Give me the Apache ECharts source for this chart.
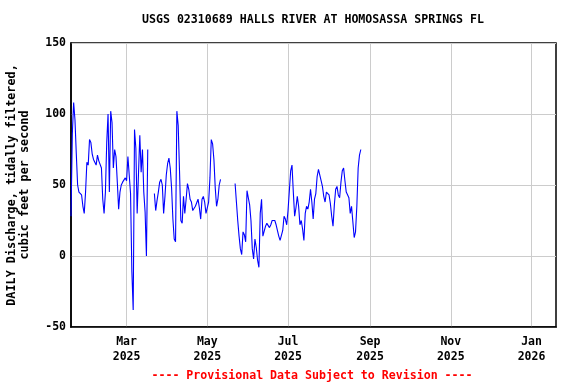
<!DOCTYPE html>
<html><head><meta charset="utf-8">
<script src="https://cdn.jsdelivr.net/npm/echarts@6/dist/echarts.min.js"></script>
<style>html,body{margin:0;padding:0;background:#fff}#c{width:576px;height:384px}</style>
</head><body><div id="c"></div>
<script>
const chartTitle = 'USGS 02310689 HALLS RIVER AT HOMOSASSA SPRINGS FL';
const yAxisName = 'DAILY Discharge, tidally filtered,\ncubic feet per second';
const footerText = '---- Provisional Data Subject to Revision ----';
const startDate = [2025, 0, 18];          // first daily value (Jan 18, 2025)
const axisMinDate = [2025, 0, 18];
const axisMaxDate = [2026, 0, 19, 12];
const dailyDischarge = [
  28, 86, 108, 96, 72, 50, 45, 46, 43, 35,
  30, 45, 66, 64, 82, 80, 72, 68, 66, 64,
  71, 67, 68, 62, 40, 30, 45, 80, 100, 45,
  102, 94, 62, 75, 70, 52, 33, 45, 50, 52,
  51, 55, 53, 70, 69, 44, -11, -38, 89, 76,
  30, 58, 85, 59, 75, 45, 31, 0, 75, null,
  null, null, null, 44, 32, 39, 45, 52, 54, 50,
  30, 42, 57, 65, 69, 62, 48, 26, 12, 10,
  102, 92, 60, 25, 23, 42, 30, 40, 51, 47,
  40, 38, 32, 33, 35, 34, 40, 34, 26, 40,
  42, 38, 30, 29, 38, 55, 82, 79, 68, 48,
  35, 40, 50, 54, null, null, null, null, null, null,
  null, null, null, null, 51, 38, 25, 14, 5, 1,
  17, 15, 10, 46, 41, 36, 25, 5, -2, 12,
  6, -3, -8, 30, 40, 14, 15, 21, 23, 22,
  20, 22, 25, 26, 25, 22, 21, 14, 11, 12,
  18, 28, 26, 22, 32, 46, 60, 64, 45, 28,
  34, 42, 35, 22, 25, 19, 11, 30, 35, 33,
  38, 47, 38, 26, 40, 44, 56, 61, 61, 53,
  49, 42, 38, 45, 45, 43, 37, 28, 21, 36,
  47, 49, 43, 41, 52, 60, 62, 53, 45, 45,
  41, 30, 35, 24, 13, 17, 35, 62, 71, 75
];
const xTickDates = [[2025,2,1],[2025,4,1],[2025,6,1],[2025,8,1],[2025,10,1],[2026,0,1]];
const xTickLabels = ['Mar\n2025','May\n2025','Jul\n2025','Sep\n2025','Nov\n2025','Jan\n2026'];
const yMin = -50, yMax = 150, yStep = 50;

const ts = a => Date.UTC(a[0], a[1], a[2], a[3] || 0);
const DAY = 86400000;
const t0 = ts(startDate);
const seriesData = dailyDischarge.map((v, i) => [t0 + i * DAY, v]);
const tickTs = xTickDates.map(ts);

const FONT = 'DejaVu Sans Mono';
const chart = echarts.init(document.getElementById('c'), null, {renderer: 'canvas'});
chart.setOption({
  animation: false,
  backgroundColor: '#ffffff',
  grid: {left: 71, right: 20, top: 43, bottom: 57, containLabel: false, outerBoundsMode: 'none',
         show: true, borderColor: '#000', borderWidth: 1.5, backgroundColor: 'transparent'},
  xAxis: {
    type: 'value',
    min: ts(axisMinDate), max: ts(axisMaxDate),
    axisLine: {show: true, onZero: false, lineStyle: {color: '#000', width: 1.5}},
    axisTick: {show: false, customValues: tickTs},
    splitLine: {show: true, lineStyle: {color: '#cccccc', width: 1}},
    axisLabel: {
      customValues: tickTs,
      formatter: v => { const i = tickTs.indexOf(v); return i >= 0 ? xTickLabels[i] : ''; },
      fontFamily: FONT, fontWeight: 'bold', fontSize: 11.5, color: '#000', lineHeight: 15, margin: 8
    }
  },
  yAxis: {
    type: 'value', min: yMin, max: yMax, interval: yStep,
    name: yAxisName, nameLocation: 'middle', nameRotate: 90, nameGap: 40,
    nameTextStyle: {fontFamily: FONT, fontWeight: 'bold', fontSize: 11.8, color: '#000', lineHeight: 13},
    axisLine: {show: true, onZero: false, lineStyle: {color: '#000', width: 1.5}},
    axisTick: {show: false},
    splitLine: {show: true, lineStyle: {color: '#cccccc', width: 1}},
    axisLabel: {fontFamily: FONT, fontWeight: 'bold', fontSize: 11.5, color: '#000', margin: 5}
  },
  graphic: [
    {type: 'text', x: 313, y: 19.5, style: {text: chartTitle, align: 'center', verticalAlign: 'middle', font: 'bold 11.6px "DejaVu Sans Mono"', fill: '#000'}},
    {type: 'text', x: 312, y: 375.5, style: {text: footerText, align: 'center', verticalAlign: 'middle', font: 'bold 11.6px "DejaVu Sans Mono"', fill: '#ff0000'}}
  ],
  series: [{
    type: 'line', data: seriesData, showSymbol: false, connectNulls: false,
    lineStyle: {color: '#0000ff', width: 1.1}, itemStyle: {color: '#0000ff'}
  }]
});
</script></body></html>
